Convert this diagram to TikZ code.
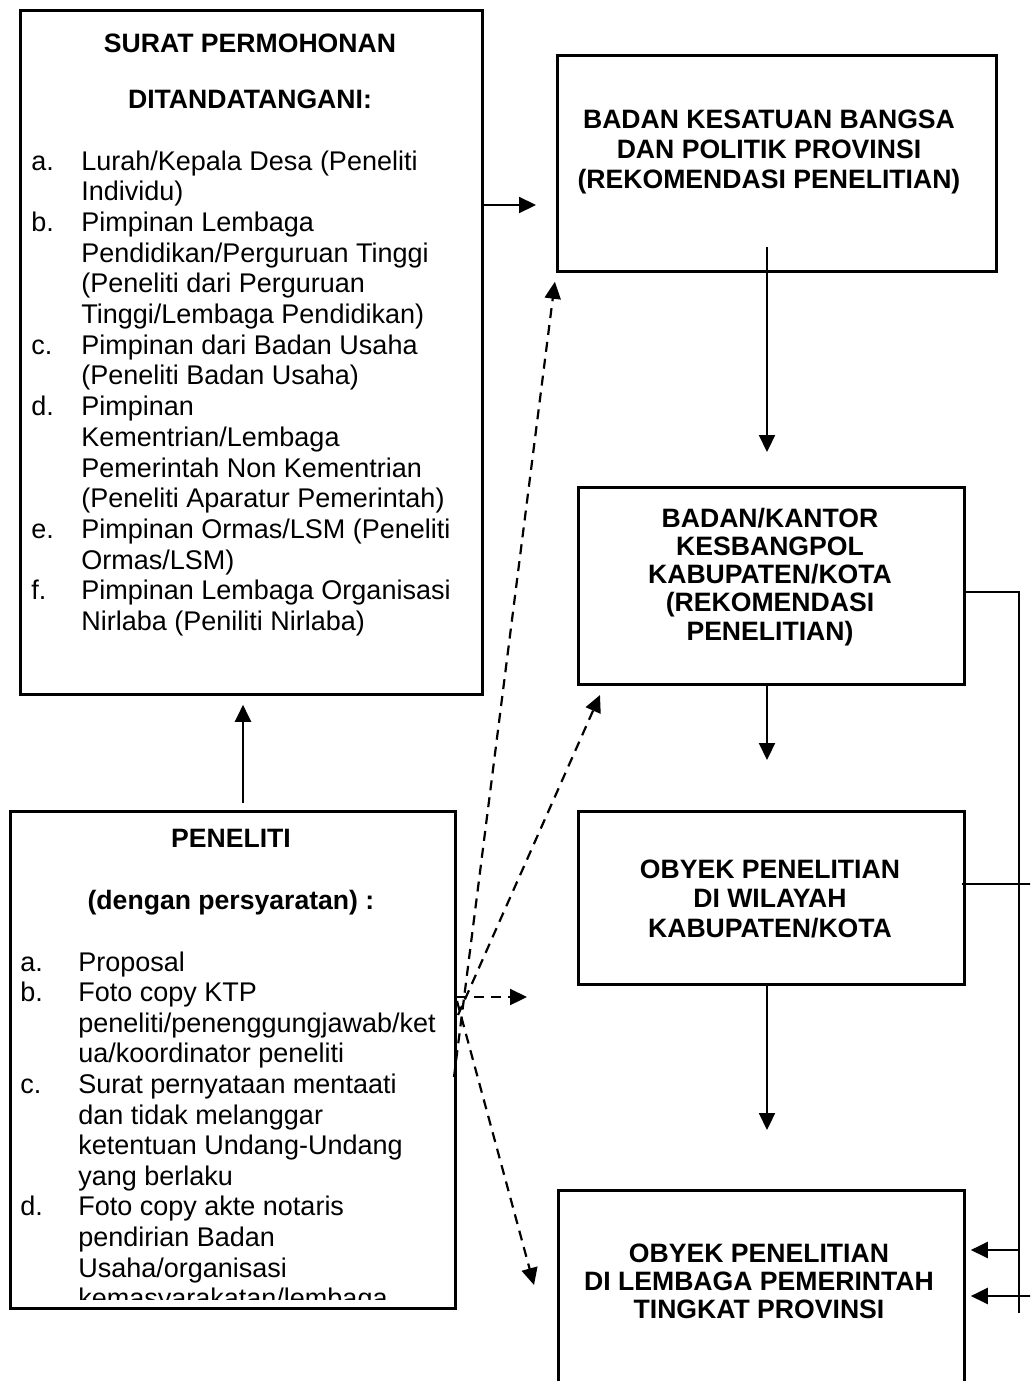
\documentclass[tikz,border=0pt]{standalone}
\usepackage{fontspec}
\setmainfont{Liberation Sans}
\usetikzlibrary{arrows.meta}
\begin{document}
\begin{tikzpicture}[x=0.5pt,y=-0.5pt,
  box/.style={draw, line width=1.4pt, inner sep=0pt, anchor=north west},
  conn/.style={line width=1.1pt},
  arr/.style={conn, -{Triangle[length=8.5pt,width=8pt]}},
  darr/.style={arr, dash pattern=on 5pt off 3.5pt},
  hd/.style={inner sep=0pt, anchor=base, font=\fontsize{13.3}{15}\selectfont\bfseries},
  lst/.style={inner sep=0pt, anchor=base west},
]
\useasboundingbox (0,0) rectangle (1030,1381);
\clip (0,0) rectangle (1030,1381);
\fill[white] (0,0) rectangle (1030,1381);

% ---------- Box A : Surat permohonan ----------
\node[box, minimum width=231pt, minimum height=342pt] (A) at (19,9) {};
\node[hd] (A1) at (250,52) {SURAT PERMOHONAN};
\node[hd] (A2) at (250,108) {DITANDATANGANI:};
\node[lst, font=\fontsize{13.5}{15.35}\selectfont] (Alist) at (31,170) {%
\begin{tabular}[t]{@{}p{25pt}@{}l@{}}
a. & Lurah/Kepala Desa (Peneliti\\
   & Individu)\\
b. & Pimpinan Lembaga\\
   & Pendidikan/Perguruan Tinggi\\
   & (Peneliti dari Perguruan\\
   & Tinggi/Lembaga Pendidikan)\\
c. & Pimpinan dari Badan Usaha\\
   & (Peneliti Badan Usaha)\\
d. & Pimpinan\\
   & Kementrian/Lembaga\\
   & Pemerintah Non Kementrian\\
   & (Peneliti Aparatur Pemerintah)\\
e. & Pimpinan Ormas/LSM (Peneliti\\
   & Ormas/LSM)\\
f. & Pimpinan Lembaga Organisasi\\
   & Nirlaba (Peniliti Nirlaba)
\end{tabular}};

% ---------- Box B : Peneliti ----------
\node[box, minimum width=222.5pt, minimum height=248.5pt] (B) at (9,810) {};
\node[hd] (B1) at (231,847) {PENELITI};
\node[hd] (B2) at (231,909) {(dengan persyaratan) :};
\begin{scope}
\clip (9,810) rectangle (454,1299);
\node[lst, font=\fontsize{13.5}{15.3}\selectfont] (Blist) at (20,971) {%
\begin{tabular}[t]{@{}p{29pt}@{}l@{}}
a. & Proposal\\
b. & Foto copy KTP\\
   & peneliti/penenggungjawab/ket\\
   & ua/koordinator peneliti\\
c. & Surat pernyataan mentaati\\
   & dan tidak melanggar\\
   & ketentuan Undang-Undang\\
   & yang berlaku\\
d. & Foto copy akte notaris\\
   & pendirian Badan\\
   & Usaha/organisasi\\
   & kemasyarakatan/lembaga
\end{tabular}};
\end{scope}

% ---------- Right column ----------
\node[box, minimum width=219.5pt, minimum height=108pt] (C) at (556,54) {};
\node[hd] (C1) at (769,128) {%
\begin{tabular}[t]{@{}c@{}}
BADAN KESATUAN BANGSA\\
DAN POLITIK PROVINSI\\
(REKOMENDASI PENELITIAN)
\end{tabular}};

\node[box, minimum width=193pt, minimum height=98.5pt] (D) at (577,486) {};
\node[hd, font=\fontsize{13.3}{14.15}\selectfont\bfseries] (D1) at (770,527) {%
\begin{tabular}[t]{@{}c@{}}
BADAN/KANTOR\\
KESBANGPOL\\
KABUPATEN/KOTA\\
(REKOMENDASI\\
PENELITIAN)
\end{tabular}};

\node[box, minimum width=193pt, minimum height=86.5pt] (E) at (577,810) {};
\node[hd, font=\fontsize{13.3}{14.75}\selectfont\bfseries] (E1) at (770,878) {%
\begin{tabular}[t]{@{}c@{}}
OBYEK PENELITIAN\\
DI WILAYAH\\
KABUPATEN/KOTA
\end{tabular}};

\node[box, minimum width=203pt, minimum height=125pt] (F) at (557,1189) {};
\node[hd, font=\fontsize{13.3}{14}\selectfont\bfseries] (F1) at (759,1262) {%
\begin{tabular}[t]{@{}c@{}}
OBYEK PENELITIAN\\
DI LEMBAGA PEMERINTAH\\
TINGKAT PROVINSI
\end{tabular}};

% ---------- Solid connectors ----------
\coordinate (xBA) at (243,0);
\draw[arr, shorten <=3.5pt, shorten >=4.5pt] (B.north -| xBA) -- (A.south -| xBA);

\coordinate (yAC) at (0,205);
\draw[arr, shorten >=10pt] (A.east |- yAC) -- (C.west |- yAC);

\coordinate (xC) at (767,247);
\draw[arr, shorten >=17pt] (xC) -- (D.north -| xC);
\draw[arr, shorten >=25pt] (D.south -| xC) -- (E.north -| xC);
\draw[arr, shorten >=29.5pt] (E.south -| xC) -- (F.north -| xC);

% right-hand bus
\coordinate (rt) at (1019,592);
\coordinate (rb) at (1019,1313);
\draw[conn] (D.east |- rt) -- (rt) -- (rb);
\coordinate (eL) at ([xshift=-2pt]E.east);
\coordinate (eR) at (1034,884);
\draw[conn] (eL |- eR) -- (eR);
\coordinate (f1) at (1019,1250);
\draw[arr, shorten >=2.5pt] (f1) -- (F.east |- f1);
\coordinate (f2) at (1034,1296);
\draw[arr, shorten >=2.5pt] (f2) -- (F.east |- f2);

% ---------- Dashed connectors ----------
\coordinate (dH0) at (454,997);
\coordinate (dHt) at (527,997);
\draw[darr] (B.east |- dH0) -- (dHt);
\coordinate (dF0) at (457,1001);
\coordinate (dFt) at (534,1285);
\draw[darr] (dF0) -- (dFt);
\coordinate (dD0) at (458,1015);
\coordinate (dDt) at (600,695);
\draw[darr] (dD0) -- (dDt);
\coordinate (dC0) at (454,1077);
\draw[darr, shorten >=4.5pt] (dC0) -- (C.south west);
\end{tikzpicture}
\end{document}
